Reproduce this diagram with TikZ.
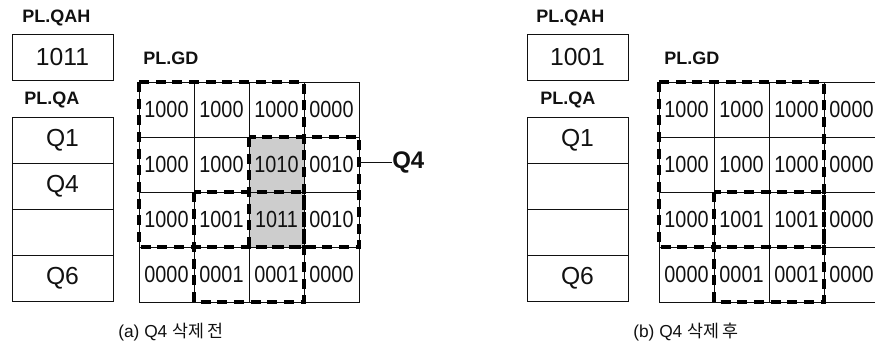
\documentclass[tikz,border=0pt]{standalone}
\usepackage{fontspec}
\usetikzlibrary{backgrounds}
\setmainfont{Liberation Sans}
\newfontfamily\cellfont[FakeStretch=0.85]{Liberation Sans}
\newfontfamily\kofont{Noto Sans CJK KR}
\definecolor{ink}{HTML}{111111}
\definecolor{cellgray}{HTML}{CDCDCD}

\begin{document}
\begin{tikzpicture}[x=0.75pt,y=-0.75pt,
    gcell/.style={draw=ink,line width=0.6pt,minimum width=41.25pt,minimum height=41.25pt,inner sep=0pt,outer sep=0pt,text=ink,font=\fontsize{17.5}{20}\cellfont},
    slot/.style={draw=ink,line width=0.7pt,minimum width=75.75pt,minimum height=34.5pt,inner sep=0pt,outer sep=0pt,text=ink,font=\fontsize{18.5}{21}\selectfont},
    lbl/.style={anchor=west,inner sep=0pt,text=ink,font=\fontsize{13.5}{15}\selectfont\bfseries},
    captext/.style={anchor=west,inner sep=0pt,text=ink,font=\fontsize{13}{15}\selectfont},
    region/.style={draw=black,line width=2.3pt,dash pattern=on 7.5pt off 5pt},
    tick/.style={draw=ink,line width=0.7pt}]
  \useasboundingbox (0,0) rectangle (875,350);
  \clip (0,0) rectangle (875,350);

  % (a) before deleting Q4
  \node[lbl] (lqahl) at (22,18) {PL.QAH};
  \node[slot] (lqah) at (62.5,57) {1011};
  \node[lbl] (lqal) at (24,100) {PL.QA};
  \foreach \q [count=\i] in {Q1,Q4,{},Q6}
    \node[slot] (lqa-\i) at (62.5,{94+46*\i}) {\q};
  \node[lbl] (lgdl) at (143,58) {PL.GD};
  \foreach \rowvals [count=\r] in {{1000,1000,1000,0000},{1000,1000,1010,0010},{1000,1001,1011,0010},{0000,0001,0001,0000}}
    \foreach \v [count=\c] in \rowvals
      \node[gcell] (L-\r-\c) at ({111.5+55*\c},{54.5+55*\r}) {\v};
  \begin{scope}[on background layer]
    \fill[cellgray] (L-2-3.north west) rectangle (L-3-3.south east);
  \end{scope}
  \draw[region] (L-1-1.north west) rectangle (L-3-3.south east);
  \draw[region] (L-3-2.north west) rectangle (L-4-3.south east);
  \draw[region] (L-2-3.north west) rectangle (L-3-4.south east);
  \node[anchor=west,inner sep=0pt,text=ink,font=\fontsize{18}{20}\selectfont\bfseries] (q4) at (392,162) {Q4};
  \draw[tick] (L-2-4.east |- q4.west) -- (q4.west);
  \node[captext] (capa) at (118,332) {(a) Q4 {\kofont 삭제 전}};

  % (b) after deleting Q4
  \node[lbl] (rqahl) at (536,18) {PL.QAH};
  \node[slot] (rqah) at (577.5,57) {1001};
  \node[lbl] (rqal) at (540,100) {PL.QA};
  \foreach \q [count=\i] in {Q1,{},{},Q6}
    \node[slot] (rqa-\i) at (577.5,{94+46*\i}) {\q};
  \node[lbl] (rgdl) at (664,58) {PL.GD};
  \foreach \rowvals [count=\r] in {{1000,1000,1000,0000},{1000,1000,1000,0000},{1000,1001,1001,0000},{0000,0001,0001,0000}}
    \foreach \v [count=\c] in \rowvals
      \node[gcell] (R-\r-\c) at ({631.5+55*\c},{54.5+55*\r}) {\v};
  \draw[region] (R-1-1.north west) rectangle (R-3-3.south east);
  \draw[region] (R-3-2.north west) rectangle (R-4-3.south east);
  \node[captext] (capb) at (633,332) {(b) Q4 {\kofont 삭제 후}};
\end{tikzpicture}
\end{document}
